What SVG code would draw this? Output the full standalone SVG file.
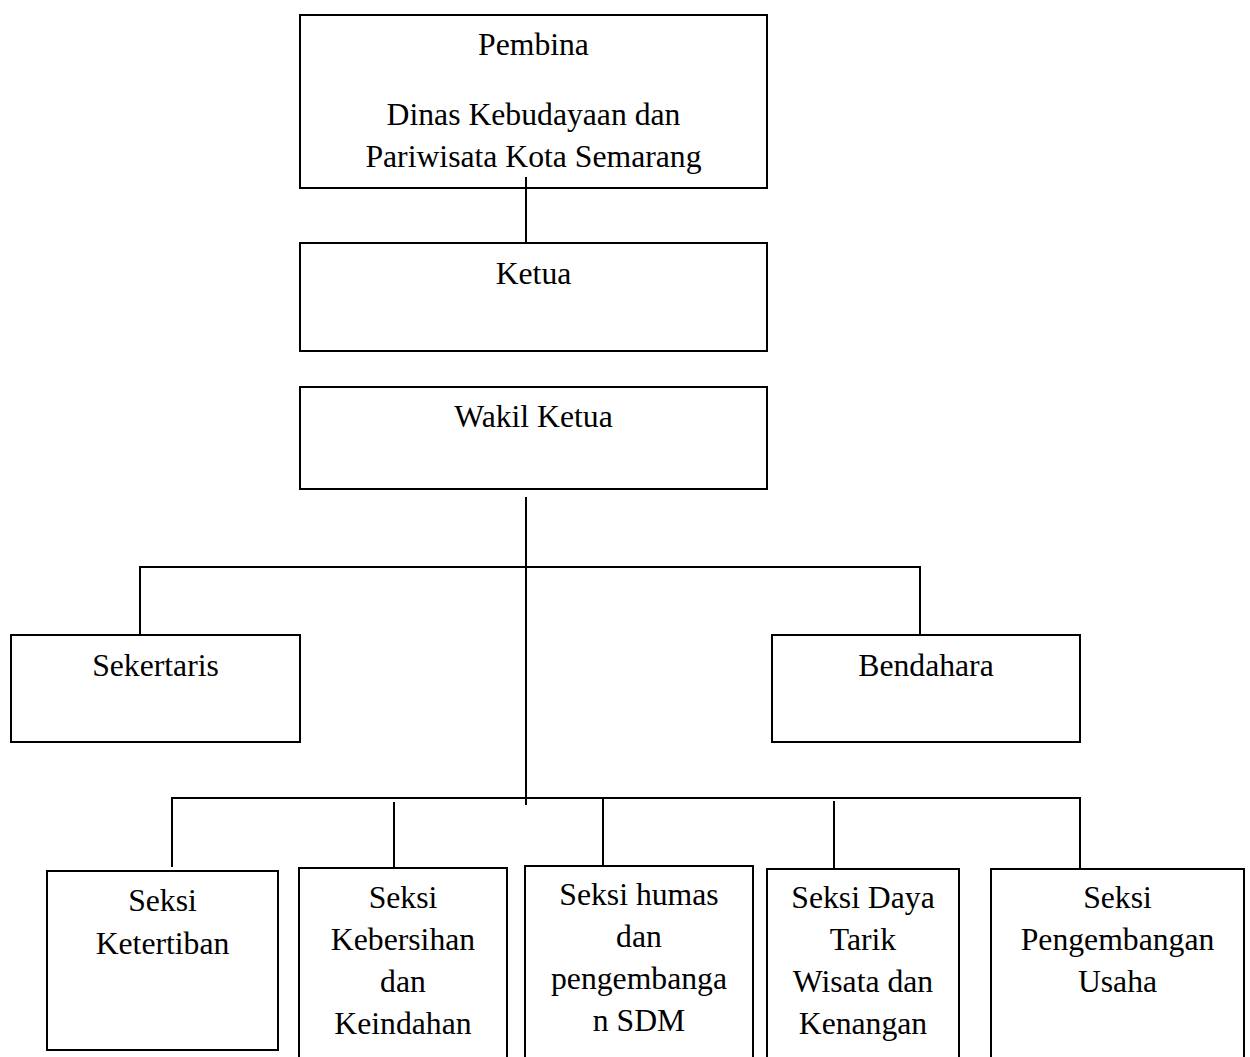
<svg xmlns="http://www.w3.org/2000/svg" width="1250" height="1057" viewBox="0 0 1250 1057">
<style>
.box{fill:#fff;stroke:#000;stroke-width:2}
.ln{stroke:#000;stroke-width:2;fill:none}
text{font-family:"Liberation Serif","Times New Roman",serif;font-size:31.7px;fill:#000;text-anchor:middle}
</style>
<rect width="1250" height="1057" fill="#fff"/>
<g id="n-pembina">
<rect class="box" x="300" y="15" width="467" height="173"/>
<text x="533.5" y="55">Pembina</text>
<text x="533.5" y="125">Dinas Kebudayaan dan</text>
<text x="533.5" y="167">Pariwisata Kota Semarang</text>
</g>
<g id="n-ketua">
<rect class="box" x="300" y="243" width="467" height="108"/>
<text x="533.5" y="284">Ketua</text>
</g>
<g id="n-wakil">
<rect class="box" x="300" y="387" width="467" height="102"/>
<text x="533.5" y="427">Wakil Ketua</text>
</g>
<g id="n-sekertaris">
<rect class="box" x="11" y="635" width="289" height="107"/>
<text x="155.5" y="676">Sekertaris</text>
</g>
<g id="n-bendahara">
<rect class="box" x="772" y="635" width="308" height="107"/>
<text x="926" y="676">Bendahara</text>
</g>
<g id="n-ketertiban">
<rect class="box" x="47" y="871" width="231" height="179"/>
<text x="162.5" y="911">Seksi</text>
<text x="162.5" y="954">Ketertiban</text>
</g>
<g id="n-kebersihan">
<rect class="box" x="299" y="868" width="208" height="210"/>
<text x="403" y="908">Seksi</text>
<text x="403" y="950">Kebersihan</text>
<text x="403" y="992">dan</text>
<text x="403" y="1034">Keindahan</text>
</g>
<g id="n-humas">
<rect class="box" x="525" y="866" width="228" height="212"/>
<text x="639" y="905">Seksi humas</text>
<text x="639" y="947">dan</text>
<text x="639" y="989">pengembanga</text>
<text x="639" y="1031">n SDM</text>
</g>
<g id="n-dayatarik">
<rect class="box" x="767" y="869" width="192" height="210"/>
<text x="863" y="908">Seksi Daya</text>
<text x="863" y="950">Tarik</text>
<text x="863" y="992">Wisata dan</text>
<text x="863" y="1034">Kenangan</text>
</g>
<g id="n-usaha">
<rect class="box" x="991" y="869" width="253" height="210"/>
<text x="1117.5" y="908">Seksi</text>
<text x="1117.5" y="950">Pengembangan</text>
<text x="1117.5" y="992">Usaha</text>
</g>
<g id="connectors">
<line class="ln" x1="526" y1="177" x2="526" y2="243"/>
<line class="ln" x1="526" y1="497" x2="526" y2="805"/>
<polyline class="ln" points="140,635 140,567 920,567 920,635"/>
<polyline class="ln" points="172,867 172,798 1080,798 1080,868"/>
<line class="ln" x1="394" y1="802" x2="394" y2="868"/>
<line class="ln" x1="603" y1="798" x2="603" y2="866"/>
<line class="ln" x1="834" y1="801" x2="834" y2="869"/>
</g>
</svg>
